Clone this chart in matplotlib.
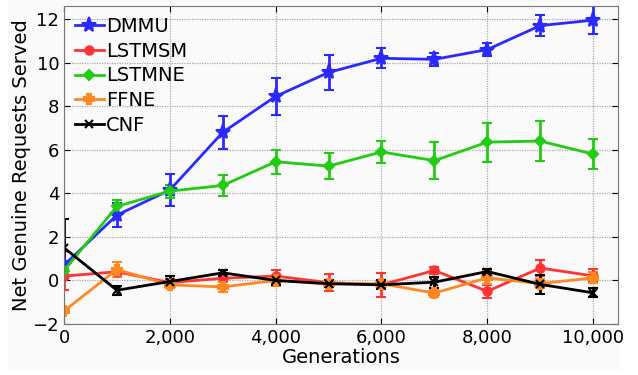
import matplotlib
matplotlib.use("Agg")
import matplotlib.pyplot as plt
from matplotlib.lines import Line2D
from matplotlib.ticker import FuncFormatter, MultipleLocator

generations = [0, 1000, 2000, 3000, 4000, 5000, 6000, 7000, 8000, 9000, 10000]

dmmu = [0.7, 3.0, 4.15, 6.8, 8.45, 9.55, 10.2, 10.15, 10.6, 11.7, 11.95]
dmmu_err = [0.2, 0.55, 0.72, 0.75, 0.85, 0.8, 0.45, 0.3, 0.3, 0.5, 0.65]

lstmsm = [0.2, 0.4, -0.1, 0.1, 0.2, -0.1, -0.2, 0.46, -0.5, 0.57, 0.21]
lstmsm_err = [0.65, 0.1, 0.15, 0.15, 0.3, 0.4, 0.55, 0.15, 0.3, 0.35, 0.3]

lstmne = [0.45, 3.4, 4.1, 4.36, 5.45, 5.25, 5.9, 5.5, 6.35, 6.4, 5.8]
lstmne_err = [0.2, 0.3, 0.3, 0.5, 0.55, 0.58, 0.5, 0.85, 0.9, 0.9, 0.7]

ffne = [-1.4, 0.5, -0.2, -0.3, 0.0, -0.15, -0.15, -0.58, 0.12, -0.15, 0.12]
ffne_err = [0.1, 0.35, 0.15, 0.25, 0.25, 0.15, 0.15, 0.2, 0.3, 0.2, 0.25]

cnf = [1.5, -0.45, -0.05, 0.35, 0.0, -0.15, -0.2, -0.08, 0.41, -0.18, -0.57]
cnf_err = [1.3, 0.2, 0.25, 0.15, 0.2, 0.15, 0.2, 0.25, 0.1, 0.45, 0.2]

series = [
    ("DMMU", dmmu, dmmu_err, "#2a2aff", "*", 11),
    ("LSTMSM", lstmsm, lstmsm_err, "#ff3333", "o", 6),
    ("LSTMNE", lstmne, lstmne_err, "#22cc11", "D", 5),
    ("FFNE", ffne, ffne_err, "#ff8822", "P", 7),
    ("CNF", cnf, cnf_err, "#000000", "x", 6),
]

fig = plt.figure(figsize=(6.38, 3.75), dpi=100, facecolor="white")
fig.patches.append(plt.Rectangle((8/638, 5/375), 612/638, 370/375, transform=fig.transFigure,
                                 facecolor="#fafafa", edgecolor="none", zorder=-10))
ax = fig.add_axes([64/638, 1 - 324/375, (618-64)/638, (324-6)/375])
ax.set_facecolor("#fafafa")

handles = []
for name, y, e, c, m, ms in series:
    ax.errorbar(generations, y, yerr=e, color=c, marker=m, markersize=ms,
                linewidth=2, elinewidth=2, capsize=3.5, capthick=2,
                markeredgewidth=1.5)
    handles.append(Line2D([], [], color=c, marker=m, markersize=ms, linewidth=2,
                          markeredgewidth=1.5, label=name))

ax.set_xlim(0, 10470)
ax.set_ylim(-2, 12.6)
ax.xaxis.set_major_locator(MultipleLocator(2000))
ax.yaxis.set_major_locator(MultipleLocator(2))
ax.xaxis.set_major_formatter(FuncFormatter(lambda v, p: f"{int(v):,}"))
ax.tick_params(direction="in", top=True, right=True, labelsize=13, length=4, colors="black")
ax.grid(True, linestyle=(0, (1, 1)), color="#aaaaaa", linewidth=0.9)
for s in ax.spines.values():
    s.set_color("#777777")
ax.set_xlabel("Generations", fontsize=14, labelpad=1)
ax.set_ylabel("Net Genuine Requests Served", fontsize=14, labelpad=1)
ax.legend(handles=handles, loc="upper left", fontsize=14, frameon=False, handlelength=1.5,
          borderaxespad=0.15, labelspacing=0.3, handletextpad=0.1,
          bbox_to_anchor=(0.0, 1.0))

fig.savefig("out.png", dpi=100, facecolor=fig.get_facecolor())
